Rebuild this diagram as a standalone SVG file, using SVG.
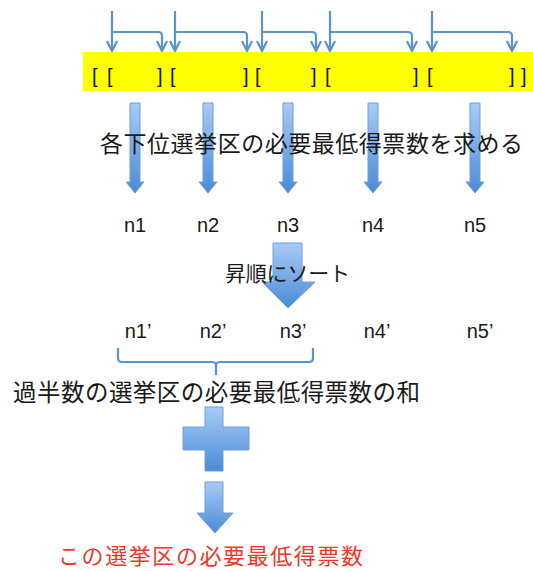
<svg xmlns="http://www.w3.org/2000/svg" width="533" height="571" viewBox="0 0 533 571">
<style>
.jp{font-family:"Noto Sans CJK JP","Noto Sans",sans-serif;fill:#1a1a1a}
.lat{font-family:"Liberation Sans",Arial,sans-serif;font-size:20px;fill:#1a1a1a}
.br{font-family:"Liberation Sans",Arial,sans-serif;font-size:20px;fill:#111}
.link{fill:none;stroke:#5b93cf;stroke-width:2.2;stroke-linejoin:round}
.blk{fill:url(#g);stroke:#6f9fd6;stroke-width:1}
</style>
<defs>
<linearGradient id="g" x1="0" y1="0" x2="0" y2="1">
<stop offset="0" stop-color="#a9cbf6"/>
<stop offset="1" stop-color="#4a8bd6"/>
</linearGradient>
<marker id="ah" viewBox="0 0 12 12" refX="11" refY="6" markerWidth="12" markerHeight="12" markerUnits="userSpaceOnUse" orient="auto">
<path d="M1,1 L11,6 L1,11" fill="none" stroke="#5b93cf" stroke-width="2.2" stroke-linejoin="round"/>
</marker>
</defs>

<g id="bar">
<rect x="83" y="52" width="450" height="39" fill="#ffff00"/>
<text class="br" x="92" y="83">[</text>
<text class="br" x="107" y="83">[</text>
<text class="br" x="157" y="83">]</text>
<text class="br" x="170" y="83">[</text>
<text class="br" x="243" y="83">]</text>
<text class="br" x="255" y="83">[</text>
<text class="br" x="311" y="83">]</text>
<text class="br" x="325" y="83">[</text>
<text class="br" x="413" y="83">]</text>
<text class="br" x="427" y="83">[</text>
<text class="br" x="509" y="83">]</text>
<text class="br" x="521" y="83">]</text>
</g>

<g id="connectors">
<path class="link" d="M112,11 V51" marker-end="url(#ah)"/>
<path class="link" d="M112,32 H158 Q162,32 162,36 V51" marker-end="url(#ah)"/>
<path class="link" d="M175,11 V51" marker-end="url(#ah)"/>
<path class="link" d="M175,32 H243 Q247,32 247,36 V51" marker-end="url(#ah)"/>
<path class="link" d="M262,11 V51" marker-end="url(#ah)"/>
<path class="link" d="M262,32 H312 Q316,32 316,36 V51" marker-end="url(#ah)"/>
<path class="link" d="M330,11 V51" marker-end="url(#ah)"/>
<path class="link" d="M330,32 H408 Q412,32 412,36 V51" marker-end="url(#ah)"/>
<path class="link" d="M432,11 V51" marker-end="url(#ah)"/>
<path class="link" d="M432,32 H508 Q512,32 512,36 V51" marker-end="url(#ah)"/>
<path class="link" d="M118,348 V358 Q118,362 122,362 H212 Q216,362 216,366 V375 M216,366 Q216,362 220,362 H309 Q313,362 313,358 V348"/>
</g>

<g id="down-arrows">
<path class="blk" d="M130,103 H140 V182 H144 L135,193 L126,182 H130 Z"/>
<path class="blk" d="M203,103 H213 V182 H217 L208,193 L199,182 H203 Z"/>
<path class="blk" d="M283,103 H293 V182 H297 L288,193 L279,182 H283 Z"/>
<path class="blk" d="M368,103 H378 V182 H382 L373,193 L364,182 H368 Z"/>
<path class="blk" d="M470,103 H480 V182 H484 L475,193 L466,182 H470 Z"/>
</g>

<g id="step1">
<text class="jp" x="100" y="152" font-size="23" textLength="423" lengthAdjust="spacing">各下位選挙区の必要最低得票数を求める</text>
</g>

<g id="n-values">
<text class="lat" x="135" y="232" text-anchor="middle">n1</text>
<text class="lat" x="208" y="232" text-anchor="middle">n2</text>
<text class="lat" x="288" y="232" text-anchor="middle">n3</text>
<text class="lat" x="373" y="232" text-anchor="middle">n4</text>
<text class="lat" x="475" y="232" text-anchor="middle">n5</text>
</g>

<g id="sort-arrow">
<path class="blk" d="M273,243 H302 V282 H315 L288,308 L262,282 H273 Z"/>
</g>
<g id="sort-label">
<text class="jp" x="225" y="281" font-size="21" textLength="125" lengthAdjust="spacing">昇順にソート</text>
</g>

<g id="sorted-values">
<text class="lat" x="138" y="338" text-anchor="middle">n1’</text>
<text class="lat" x="213" y="338" text-anchor="middle">n2’</text>
<text class="lat" x="293" y="338" text-anchor="middle">n3’</text>
<text class="lat" x="377" y="338" text-anchor="middle">n4’</text>
<text class="lat" x="480" y="338" text-anchor="middle">n5’</text>
</g>

<g id="sum-label">
<text class="jp" x="13" y="401" font-size="23.5" textLength="407" lengthAdjust="spacing">過半数の選挙区の必要最低得票数の和</text>
</g>

<g id="plus">
<path class="blk" d="M205,407 H223 V427 H249 V450 H223 V471 H205 V450 H183 V427 H205 Z"/>
</g>

<g id="result-arrow">
<path class="blk" d="M205,482 H223 V513 H233 L215,533 L197,513 H205 Z"/>
</g>

<g id="result">
<text x="58" y="564" font-size="22" textLength="305" lengthAdjust="spacing" style="font-family:'Noto Sans CJK JP','Noto Sans',sans-serif;fill:#f2352a">この選挙区の必要最低得票数</text>
</g>
</svg>
